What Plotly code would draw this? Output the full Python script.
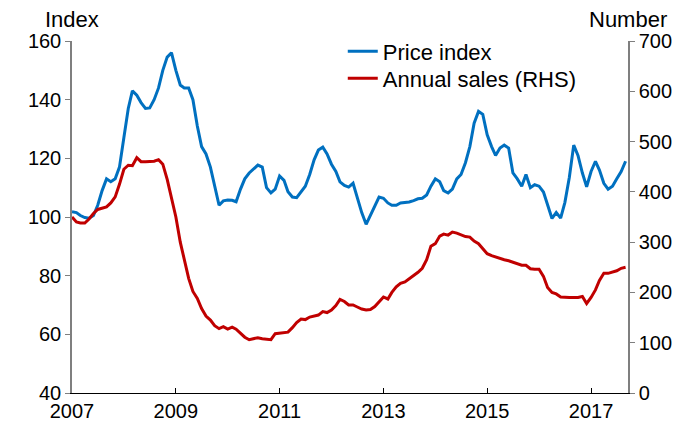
import pandas as pd
import plotly.graph_objects as go

start_month = "2007-01-01"
n_months = 129

price_index = [
    101.8, 101.5, 100.5, 99.8, 99.6, 100.5, 104, 109, 113, 112, 113, 117,
    127, 137, 143, 141.5, 139, 137, 137.2, 140, 144, 150, 154.5, 156,
    150, 145, 144, 144, 140, 131, 124, 121.5, 117, 110, 104, 105.5,
    105.8, 105.7, 105.2, 109.5, 113, 115, 116.5, 117.7, 117, 110, 108.2, 109.5,
    114, 112.5, 108.6, 106.8, 106.6, 108.5, 110.5, 114.5, 119.5, 122.8, 123.8, 121.5,
    118, 115.5, 112, 110.8, 110.2, 111.5, 106.5, 101.5, 97.5, 100.5, 104, 106.8,
    106.4, 104.8, 104, 104, 104.8, 105, 105.1, 105.6, 106.2, 106.4, 107.5, 110.5,
    113, 112, 109, 108.2, 109.5, 113, 114.5, 118.5, 124, 132, 136, 135,
    128, 124, 121, 123.5, 124.5, 123.5, 115, 113, 110.5, 114.5, 110, 111,
    110.5, 108.5, 104.5, 99.5, 101.5, 99.6, 105, 113.5, 124.5, 121, 115, 110.3,
    115.5, 119, 116, 111.5, 109.5, 110.5, 113, 115.5, 119,
]

annual_sales = [
    350, 340, 338, 338, 346, 357, 365, 367, 370, 378, 390, 415,
    445, 453, 452, 468, 460, 460, 460, 461, 464, 455, 425, 385,
    350, 300, 265, 228, 202, 188, 168, 153, 145, 134, 128, 132,
    127, 131, 127, 118, 111, 106, 108, 110, 108, 107, 106, 118,
    119, 121, 121, 130, 140, 147, 146, 151, 153, 155, 162, 160,
    165, 174, 186, 182, 175, 175, 171, 167, 165, 166, 172, 182,
    191, 187, 200, 211, 218, 221, 227, 232, 240, 248, 265, 292,
    297, 312, 316, 314, 320, 318, 315, 311, 310, 302, 297, 287,
    277, 273, 270, 267, 265, 263, 260, 257, 254, 254, 247, 246,
    246, 232, 210, 200, 197, 191, 190, 190, 190, 190, 192, 178,
    190, 205, 224, 238, 238, 241, 243, 248, 250,
]

dates = pd.date_range(start_month, periods=n_months, freq="MS")

series_names = ["Price index", "Annual sales (RHS)"]
left_title = "Index"
right_title = "Number"

FONT = "Liberation Sans, Arial, sans-serif"
BLUE = "#0070C0"
RED = "#C00000"
TICK_SIZE = 20
TEXT_SIZE = 22

fig = go.Figure()
fig.add_trace(go.Scatter(x=dates, y=price_index, name=series_names[0], mode="lines",
                         line=dict(color=BLUE, width=3), yaxis="y", legend="legend"))
fig.add_trace(go.Scatter(x=dates, y=annual_sales, name=series_names[1], mode="lines",
                         line=dict(color=RED, width=3), yaxis="y2", legend="legend2"))

legend_common = dict(xanchor="left", yanchor="top", bgcolor="rgba(0,0,0,0)",
                     font=dict(size=TEXT_SIZE), itemwidth=30)

# the page body adds an 8px offset, so the figure is 8px smaller on each side
fig.update_layout(
    width=683, height=420,
    margin=dict(l=64, r=63, t=33, b=35, autoexpand=False),
    paper_bgcolor="white", plot_bgcolor="white",
    font=dict(family=FONT, size=TICK_SIZE, color="black"),
    showlegend=True,
    legend=dict(x=0.487, y=1.03, **legend_common),
    legend2=dict(x=0.487, y=0.953, **legend_common),
    xaxis=dict(type="date", range=["2007-01-01", "2017-09-18"],
               tick0="2007-01-01", dtick="M24", tickformat="%Y",
               showgrid=False, zeroline=False, automargin=False,
               showline=True, linecolor="black", linewidth=1,
               ticks="inside", ticklen=5, tickcolor="black",
               tickfont=dict(size=TICK_SIZE)),
    yaxis=dict(range=[40, 160], dtick=20, showgrid=False, zeroline=False,
               automargin=False,
               showline=True, linecolor="#7f7f7f", linewidth=1.5,
               ticks="outside", ticklen=5, tickcolor="#7f7f7f",
               tickfont=dict(size=TICK_SIZE)),
    yaxis2=dict(range=[0, 700], dtick=100, overlaying="y", side="right",
                showgrid=False, zeroline=False, automargin=False,
                showline=True, linecolor="#7f7f7f", linewidth=1.5,
                ticks="outside", ticklen=5, tickcolor="#7f7f7f",
                tickfont=dict(size=TICK_SIZE)),
    annotations=[
        dict(text=left_title, xref="paper", yref="paper", x=0.0, y=1.06,
             xanchor="center", yanchor="middle", showarrow=False,
             font=dict(size=TEXT_SIZE)),
        dict(text=right_title, xref="paper", yref="paper", x=1.0, y=1.06,
             xanchor="center", yanchor="middle", showarrow=False,
             font=dict(size=TEXT_SIZE)),
    ],
)

fig.write_html("out.html")
